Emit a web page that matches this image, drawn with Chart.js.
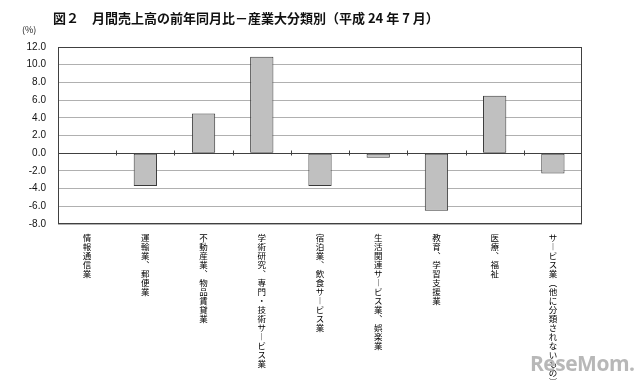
<!DOCTYPE html>
<html>
<head>
<meta charset="utf-8">
<script src="https://cdn.jsdelivr.net/npm/chart.js@4"></script>
<style>
  html, body { margin: 0; padding: 0; background: #fff; overflow: hidden; }
  #wrap { position: relative; width: 640px; height: 386px; }
  #title { position: absolute; left: 53px; top: 8px; font: bold 13px "Noto Sans CJK JP", sans-serif; color: #111; white-space: pre; letter-spacing: 0px; }
  #unit { position: absolute; left: 22px; top: 23px; font: 9px "Noto Sans CJK JP", sans-serif; color: #222; }
  #mark { position: absolute; left: 530px; top: 349px; font: bold 21px "Open Sans", sans-serif; color: #b8b8b8; letter-spacing: -0.5px; }
</style>
</head>
<body>
<div id="wrap">
  <canvas id="chart" width="640" height="386"></canvas>
  <div id="title">図２　月間売上高の前年同月比－産業大分類別（平成 24 年 7 月）</div>
  <div id="unit">(%)</div>
  <div id="mark">ReseMom.</div>
</div>
<script>
// 産業大分類
var industries = [
    "情報通信業",
    "運輸業、郵便業",
    "不動産業、物品賃貸業",
    "学術研究、専門・技術サービス業",
    "宿泊業、飲食サービス業",
    "生活関連サービス業、娯楽業",
    "教育、学習支援業",
    "医療、福祉",
    "サービス業（他に分類されないもの）"
];
// 前年同月比 (%)
var changes = [0.0, -3.7, 4.5, 10.9, -3.7, -0.5, -6.5, 6.5, -2.3];
var yMin = -8, yMax = 12, yStep = 2;

// vertical writing: one character per line, using vertical forms for punctuation
var vforms = { "、": "︑", "ー": "︱", "（": "︵", "）": "︶" };
function verticalLabel(s) {
    return s.split("").map(function (c) { return vforms[c] || c; });
}

// frame around the plot and small ticks on the zero line between categories
var framePlugin = {
    id: 'frame',
    afterDatasetsDraw: function (chart) {
        var ctx = chart.ctx, a = chart.chartArea;
        var xs = chart.scales.x, ys = chart.scales.y;
        ctx.save();
        ctx.strokeStyle = '#404040';
        ctx.lineWidth = 1;
        ctx.strokeRect(a.left + 0.5, a.top + 0.5, a.right - a.left - 1, a.bottom - a.top - 1);
        var y0 = Math.round(ys.getPixelForValue(0)) + 0.5;
        ctx.beginPath();
        ctx.moveTo(a.left, y0);
        ctx.lineTo(a.right, y0);
        for (var i = 1; i < industries.length; i++) {
            var x = Math.round(xs.getPixelForValue(i - 0.5)) + 0.5;
            ctx.moveTo(x, y0 - 3);
            ctx.lineTo(x, y0 + 2);
        }
        ctx.stroke();
        ctx.restore();
    }
};

var ctx = document.getElementById('chart').getContext('2d');
var chart = new Chart(ctx, {
    type: 'bar',
    data: {
        labels: industries.map(verticalLabel),
        datasets: [{
            data: changes,
            backgroundColor: '#c0c0c0',
            borderColor: '#3a3a3a',
            borderWidth: 1,
            borderSkipped: false,
            barPercentage: 0.4,
            categoryPercentage: 1.0
        }]
    },
    plugins: [framePlugin],
    options: {
        responsive: false,
        animation: false,
        layout: { padding: { top: 47, right: 58, left: 0, bottom: 0 } },
        plugins: {
            legend: { display: false },
            tooltip: { enabled: false }
        },
        scales: {
            x: {
                grid: { display: false, drawTicks: false },
                border: { display: false },
                ticks: {
                    autoSkip: false,
                    maxRotation: 0,
                    minRotation: 0,
                    padding: 9,
                    color: '#000',
                    font: { family: '"Noto Sans CJK JP", sans-serif', size: 8.5, lineHeight: 1.06 }
                },
                afterFit: function (scale) { scale.height = 162; }
            },
            y: {
                min: yMin,
                max: yMax,
                grid: { color: '#b0b0b0', lineWidth: 1, drawTicks: false },
                border: { display: false },
                ticks: {
                    stepSize: yStep,
                    padding: 12,
                    color: '#111',
                    font: { family: '"Liberation Sans", sans-serif', size: 10 },
                    callback: function (v) { return v.toFixed(1); }
                },
                afterFit: function (scale) { scale.width = 58; }
            }
        }
    }
});
</script>
</body>
</html>
